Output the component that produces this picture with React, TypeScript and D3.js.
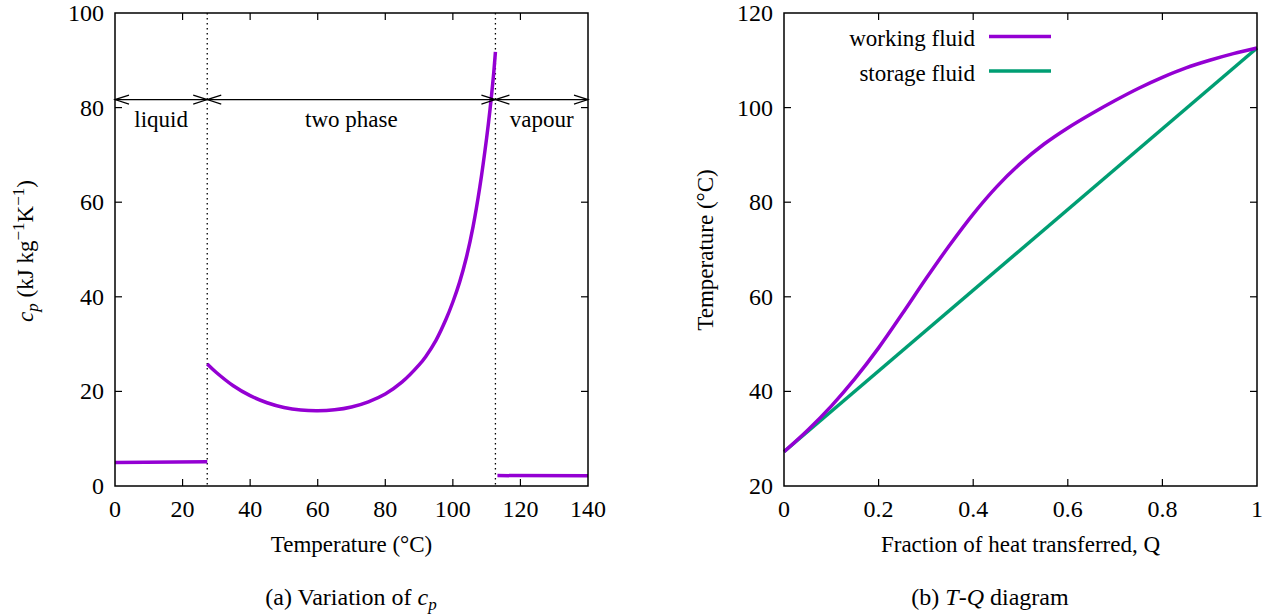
import React from "react";
import * as d3 from "d3";

// ---- Data: left panel (cp vs temperature) ----
const liquidT = [0, 27.3];
const liquidCp = [4.98, 5.15];
const twoPhaseT = [27.3, 30, 35, 40, 45, 50, 55, 60, 65, 70, 75, 80, 85, 90, 92, 95, 98, 100, 102, 104, 106, 108, 110, 111, 112, 112.6];
const twoPhaseCp = [25.8, 24.0, 21.2, 19.1, 17.6, 16.6, 16.05, 15.9, 16.1, 16.7, 17.8, 19.45, 22.0, 25.6, 27.4, 30.8, 35.3, 38.9, 43.1, 48.3, 54.9, 63.3, 73.6, 79.6, 86.6, 91.8];
const vapourT = [113.2, 140];
const vapourCp = [2.2, 2.15];
const phaseBounds = [27.3, 112.6];
const arrowLevel = 81.7;
const regionLabels = ["liquid", "two phase", "vapour"];
const leftXTicks = [0, 20, 40, 60, 80, 100, 120, 140];
const leftYTicks = [0, 20, 40, 60, 80, 100];

// ---- Data: right panel (T-Q diagram) ----
const fracQ = [0, 0.05, 0.1, 0.15, 0.2, 0.25, 0.3, 0.35, 0.4, 0.45, 0.5, 0.55, 0.6, 0.65, 0.7, 0.75, 0.8, 0.85, 0.9, 0.95, 1];
const workingT = [27.25, 31.8, 36.9, 42.7, 49.2, 56.4, 63.8, 70.9, 77.5, 83.3, 88.2, 92.3, 95.7, 98.7, 101.5, 104.1, 106.4, 108.4, 110.0, 111.4, 112.6];
const storageQ = [0, 1];
const storageT = [27.25, 112.6];
const seriesNames = ["working fluid", "storage fluid"];
const rightXTicks = [0, 0.2, 0.4, 0.6, 0.8, 1];
const rightYTicks = [20, 40, 60, 80, 100, 120];

const W = 1271;
const H = 616;
const FONT = "'Liberation Serif', 'Times New Roman', serif";
const PURPLE = "#9400d3";
const GREEN = "#009e73";
const TOP = 13;
const BOT = 486;
const TICK = 7;
const TICK_FS = 24;
const LAB_FS = 23;

const L = { x0: 115, x1: 588 };
const R = { x0: 784, x1: 1257 };

const xL = d3.scaleLinear().domain([0, 140]).range([L.x0, L.x1]);
const yL = d3.scaleLinear().domain([0, 100]).range([BOT, TOP]);
const xR = d3.scaleLinear().domain([0, 1]).range([R.x0, R.x1]);
const yR = d3.scaleLinear().domain([20, 120]).range([BOT, TOP]);

function Frame({ x, y, xTicks, yTicks, fmt }: any) {
  const [x0, x1] = x.range();
  return (
    <g>
      <rect x={x0} y={TOP} width={x1 - x0} height={BOT - TOP} fill="none" stroke="#000" strokeWidth={1.5} />
      {xTicks.map((t: number) => (
        <g key={"x" + t}>
          {t !== x.domain()[0] && t !== x.domain()[1] && (
            <>
              <line x1={x(t)} x2={x(t)} y1={BOT} y2={BOT - TICK} stroke="#000" strokeWidth={1.2} />
              <line x1={x(t)} x2={x(t)} y1={TOP} y2={TOP + TICK} stroke="#000" strokeWidth={1.2} />
            </>
          )}
          <text x={x(t)} y={517} textAnchor="middle" fontSize={TICK_FS} fontFamily={FONT}>
            {fmt(t)}
          </text>
        </g>
      ))}
      {yTicks.map((t: number) => (
        <g key={"y" + t}>
          {t !== y.domain()[0] && t !== y.domain()[1] && (
            <>
              <line x1={x0} x2={x0 + TICK} y1={y(t)} y2={y(t)} stroke="#000" strokeWidth={1.2} />
              <line x1={x1} x2={x1 - TICK} y1={y(t)} y2={y(t)} stroke="#000" strokeWidth={1.2} />
            </>
          )}
          <text x={x0 - 11} y={y(t) + 8} textAnchor="end" fontSize={TICK_FS} fontFamily={FONT}>
            {fmt(t)}
          </text>
        </g>
      ))}
    </g>
  );
}

function DoubleArrow({ xa, xb, y }: { xa: number; xb: number; y: number }) {
  const hl = 14;
  const hw = 4.5;
  return (
    <g stroke="#000" strokeWidth={1.2} fill="none">
      <line x1={xa} x2={xb} y1={y} y2={y} />
      <polyline points={`${xa + hl},${y - hw} ${xa},${y} ${xa + hl},${y + hw}`} />
      <polyline points={`${xb - hl},${y - hw} ${xb},${y} ${xb - hl},${y + hw}`} />
    </g>
  );
}

export default function App() {
  const mk = (xs: number[], ys: number[], xs_: any, ys_: any, curve: any) =>
    d3
      .line<number>()
      .x((_, i) => xs_(xs[i]))
      .y((_, i) => ys_(ys[i]))
      .curve(curve)(xs) as string;

  const liquidPath = mk(liquidT, liquidCp, xL, yL, d3.curveLinear);
  const twoPhasePath = mk(twoPhaseT, twoPhaseCp, xL, yL, d3.curveCatmullRom.alpha(0.5));
  const vapourPath = mk(vapourT, vapourCp, xL, yL, d3.curveLinear);
  const workingPath = mk(fracQ, workingT, xR, yR, d3.curveCatmullRom.alpha(0.5));
  const storagePath = mk(storageQ, storageT, xR, yR, d3.curveLinear);

  const bounds = [0, ...phaseBounds, 140];
  const ay = yL(arrowLevel);

  return (
    <svg width={W} height={H} style={{ position: "absolute", left: 0, top: 0, background: "#fff" }}>
      <rect width={W} height={H} fill="#fff" />
      {/* Left panel */}
      {phaseBounds.map((b) => (
        <line key={b} x1={xL(b)} x2={xL(b)} y1={TOP} y2={BOT} stroke="#000" strokeWidth={1.3} strokeDasharray="1.5,3.5" />
      ))}
      <path d={liquidPath} fill="none" stroke={PURPLE} strokeWidth={3.5} />
      <path d={twoPhasePath} fill="none" stroke={PURPLE} strokeWidth={3.5} />
      <path d={vapourPath} fill="none" stroke={PURPLE} strokeWidth={3.5} />
      {bounds.slice(0, -1).map((b, i) => (
        <g key={"a" + i}>
          <DoubleArrow xa={xL(b)} xb={xL(bounds[i + 1])} y={ay} />
          <text x={(xL(b) + xL(bounds[i + 1])) / 2} y={ay + 27} textAnchor="middle" fontSize={LAB_FS} fontFamily={FONT}>
            {regionLabels[i]}
          </text>
        </g>
      ))}
      <Frame x={xL} y={yL} xTicks={leftXTicks} yTicks={leftYTicks} fmt={(t: number) => String(t)} />
      <text x={(L.x0 + L.x1) / 2} y={552} textAnchor="middle" fontSize={LAB_FS} fontFamily={FONT}>
        Temperature (°C)
      </text>
      <text transform={`translate(33,251) rotate(-90)`} textAnchor="middle" fontSize={23} fontFamily={FONT}>
        <tspan fontStyle="italic">c</tspan>
        <tspan fontStyle="italic" fontSize={17} dy={5}>p</tspan>
        <tspan dy={-5}> (kJ kg</tspan>
        <tspan fontSize={17} dy={-9}>−1</tspan>
        <tspan dy={9}>K</tspan>
        <tspan fontSize={17} dy={-9}>−1</tspan>
        <tspan dy={9}>)</tspan>
      </text>
      <text x={351} y={605} textAnchor="middle" fontSize={24} fontFamily={FONT}>
        (a) Variation of <tspan fontStyle="italic">c</tspan>
        <tspan fontStyle="italic" fontSize={17} dy={5}>p</tspan>
      </text>

      {/* Right panel */}
      <path d={storagePath} fill="none" stroke={GREEN} strokeWidth={3.5} />
      <path d={workingPath} fill="none" stroke={PURPLE} strokeWidth={3.5} />
      <Frame x={xR} y={yR} xTicks={rightXTicks} yTicks={rightYTicks} fmt={(t: number) => String(t)} />
      {seriesNames.map((n, i) => (
        <g key={n}>
          <text x={975} y={46 + i * 34.5} textAnchor="end" fontSize={LAB_FS} fontFamily={FONT}>
            {n}
          </text>
          <line x1={989} x2={1051} y1={36.5 + i * 34.5} y2={36.5 + i * 34.5} stroke={i === 0 ? PURPLE : GREEN} strokeWidth={3.5} />
        </g>
      ))}
      <text x={(R.x0 + R.x1) / 2} y={552} textAnchor="middle" fontSize={LAB_FS} fontFamily={FONT}>
        Fraction of heat transferred, Q
      </text>
      <text transform={`translate(713,250) rotate(-90)`} textAnchor="middle" fontSize={LAB_FS} fontFamily={FONT}>
        Temperature (°C)
      </text>
      <text x={990} y={605} textAnchor="middle" fontSize={24} fontFamily={FONT}>
        (b) <tspan fontStyle="italic">T</tspan>-<tspan fontStyle="italic">Q</tspan> diagram
      </text>
    </svg>
  );
}
